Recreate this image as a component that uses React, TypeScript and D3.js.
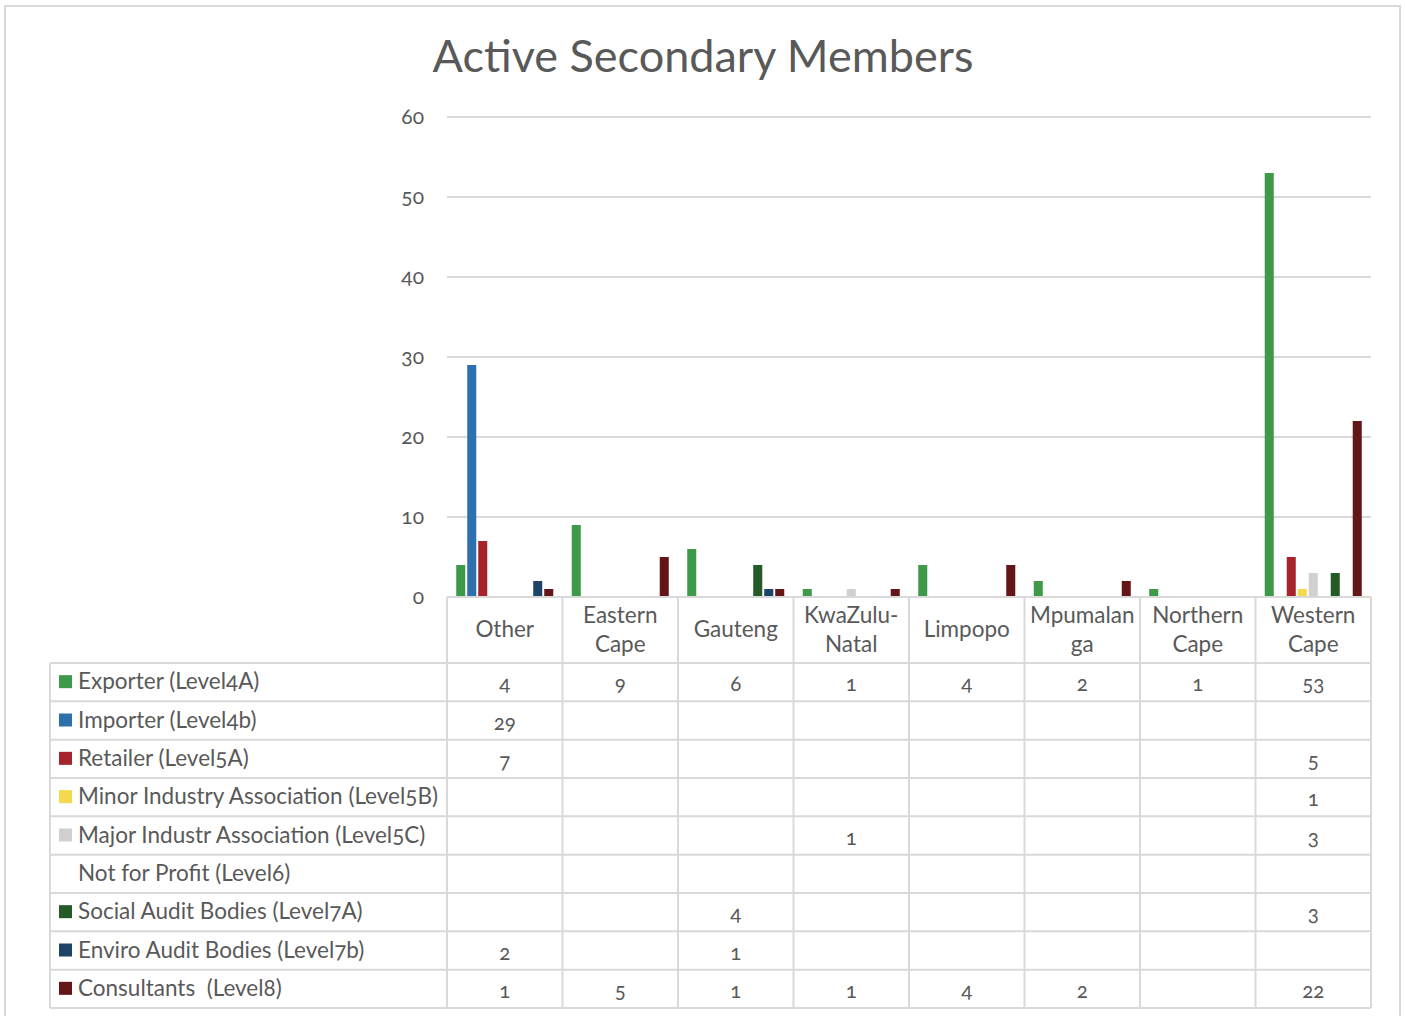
import * as d3 from 'd3'

const categories: string[][] = [
  ['Other'],
  ['Eastern', 'Cape'],
  ['Gauteng'],
  ['KwaZulu-', 'Natal'],
  ['Limpopo'],
  ['Mpumalan', 'ga'],
  ['Northern', 'Cape'],
  ['Western', 'Cape'],
]

const seriesNames = [
  'Exporter (Level4A)',
  'Importer (Level4b)',
  'Retailer (Level5A)',
  'Minor Industry Association (Level5B)',
  'Major Industr Association (Level5C)',
  'Not for Profit (Level6)',
  'Social Audit Bodies (Level7A)',
  'Enviro Audit Bodies (Level7b)',
  'Consultants  (Level8)',
]
const seriesColors = ['#3e9a48', '#2e70ad', '#a5232a', '#f3d94e', '#d0d0d0', 'none', '#235a27', '#1d4466', '#631518']

// null = empty cell
const exporter = [4, 9, 6, 1, 4, 2, 1, 53]
const importer = [29, null, null, null, null, null, null, null]
const retailer = [7, null, null, null, null, null, null, 5]
const minorIndustry = [null, null, null, null, null, null, null, 1]
const majorIndustry = [null, null, null, 1, null, null, null, 3]
const notForProfit = [null, null, null, null, null, null, null, null]
const socialAudit = [null, null, 4, null, null, null, null, 3]
const enviroAudit = [2, null, 1, null, null, null, null, null]
const consultants = [1, 5, 1, 1, 4, 2, null, 22]

const values: (number | null)[][] = [
  exporter, importer, retailer, minorIndustry, majorIndustry,
  notForProfit, socialAudit, enviroAudit, consultants,
]
const yTicks = [0, 10, 20, 30, 40, 50, 60]

const W = 1405
const H = 1016
const plotL = 447
const plotR = 1371
const plotT = 117
const plotB = 597
const tableL = 50
const headerB = 663
const tableB = 1008
const grid = '#d9d9d9'
const textCol = '#595959'
const font = 'Lato, "Open Sans", sans-serif'

export default function App() {
  const x0 = d3.scaleBand<number>().domain(d3.range(categories.length)).range([plotL, plotR])
  const x1 = d3.scaleBand<number>()
    .domain(d3.range(seriesNames.length))
    .range([0, x0.bandwidth()])
    .paddingInner(0.18)
    .paddingOuter(0.84)
  const y = d3.scaleLinear().domain([0, 60]).range([plotB, plotT])
  const row = d3.scaleBand<number>().domain(d3.range(seriesNames.length)).range([headerB, tableB])

  return (
    <svg width={W} height={H} style={{position: 'absolute', left: 0, top: 0, fontFamily: font, fontVariantNumeric: 'oldstyle-nums'}}>
      <rect x={0} y={0} width={W} height={H} fill="#fff" />
      <rect x={5} y={6} width={1395} height={1030} fill="none" stroke={grid} strokeWidth={2} />
      <text x={703} y={72} textAnchor="middle" fontSize={45} fill={textCol}>Active Secondary Members</text>

      {yTicks.map(t => (
        <g key={t}>
          {t > 0 && <line x1={plotL} x2={plotR} y1={y(t)} y2={y(t)} stroke={grid} strokeWidth={2} />}
          <text x={424} y={y(t) + 7} textAnchor="end" fontSize={21} fill={textCol}>{t}</text>
        </g>
      ))}

      {values.map((vals, s) => vals.map((v, c) => v == null || seriesColors[s] === 'none' ? null : (
        <rect key={`${s}-${c}`} x={x0(c)! + x1(s)!} y={y(v)} width={x1.bandwidth()} height={y(0) - y(v)} fill={seriesColors[s]} />
      )))}

      {/* data table */}
      <line x1={plotL} x2={plotR} y1={plotB} y2={plotB} stroke={grid} strokeWidth={2} />
      {d3.range(seriesNames.length + 1).map(i => {
        const yy = i === seriesNames.length ? tableB : row(i)!
        return <line key={i} x1={tableL} x2={plotR} y1={yy} y2={yy} stroke={grid} strokeWidth={2} />
      })}
      <line x1={tableL} x2={tableL} y1={headerB} y2={tableB} stroke={grid} strokeWidth={2} />
      {d3.range(categories.length + 1).map(i => {
        const xx = i === categories.length ? plotR : x0(i)!
        return <line key={i} x1={xx} x2={xx} y1={plotB} y2={tableB} stroke={grid} strokeWidth={2} />
      })}

      {categories.map((lines, c) => {
        const cx = x0(c)! + x0.bandwidth() / 2
        const mid = (plotB + headerB) / 2
        return (
          <text key={c} textAnchor="middle" fontSize={22.5} fill={textCol}>
            {lines.map((l, k) => (
              <tspan key={k} x={cx} y={mid + 7 + (k - (lines.length - 1) / 2) * 29}>{l}</tspan>
            ))}
          </text>
        )
      })}

      {seriesNames.map((name, s) => {
        const cy = row(s)! + row.bandwidth() / 2
        return (
          <g key={name}>
            {seriesColors[s] !== 'none' && <rect x={59} y={cy - 7} width={13} height={13} fill={seriesColors[s]} />}
            <text x={78} y={cy + 7} fontSize={22.5} fill={textCol} style={{whiteSpace: 'pre'}}>{name}</text>
            {values[s].map((v, c) => v == null ? null : (
              <text key={c} x={x0(c)! + x0.bandwidth() / 2} y={cy + 9} textAnchor="middle" fontSize={20.5} fill={textCol}>{v}</text>
            ))}
          </g>
        )
      })}
    </svg>
  )
}
